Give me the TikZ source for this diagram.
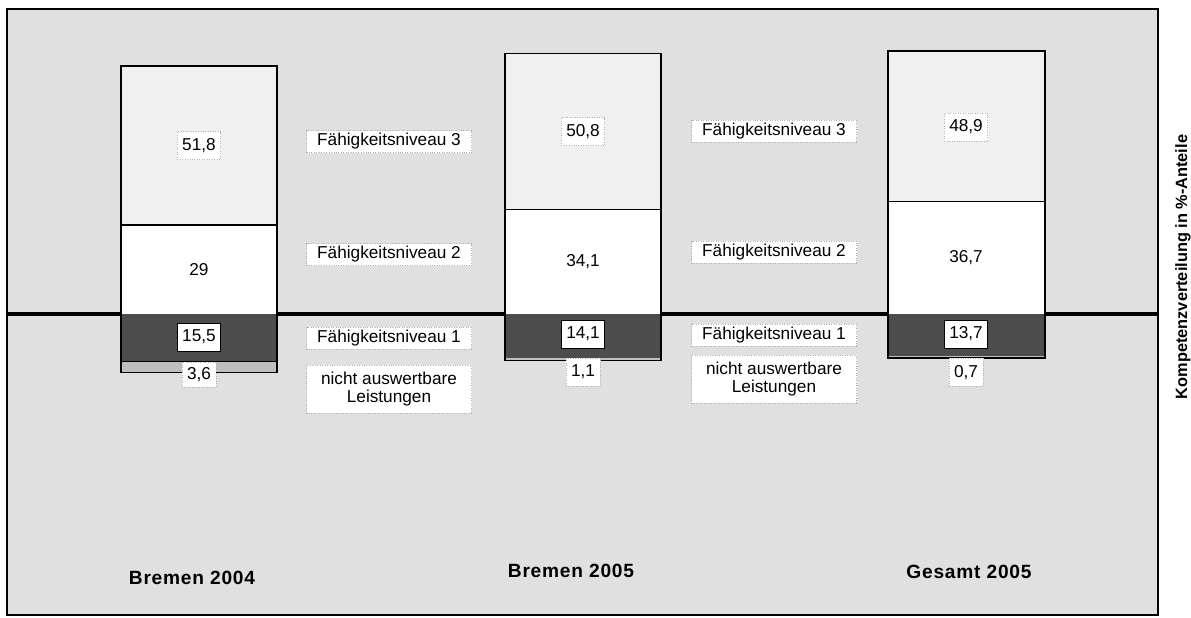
\documentclass[tikz,border=0pt]{standalone}
\usepackage{fontspec}
\setmainfont{Liberation Sans}
\newfontfamily\catfont[LetterSpace=4]{Liberation Sans}

\begin{document}
\begin{tikzpicture}[
  every node/.style={font=\fontsize{9.8}{10.4}\selectfont, inner sep=0pt},
  valbox/.style={fill=white, draw=gray!60, densely dotted, inner xsep=0.1cm, minimum height=0.56cm},
  lvlbox/.style={fill=white, draw=gray!60, densely dotted, minimum width=3.3cm, minimum height=0.44cm, align=center},
  catlabel/.style={font=\catfont\bfseries\fontsize{10.9}{12}\selectfont},
  bar/.style={draw=black, line width=1.1pt}
]
  \useasboundingbox (0,0) rectangle (23.82,12.34);
  \fill[white] (0,0) rectangle (23.82,12.34);

  % Rahmen und Grundlinie
  \fill[gray!24] (0.14,0.04) rectangle (23.16,12.16);
  \draw[line width=0.8pt] (0.14,0.04) rectangle (23.16,12.16);
  \draw[line width=1.4pt] (0.14,12.16) -- (23.16,12.16);
  \draw[line width=2.2pt] (0.14,6.06) -- (23.16,6.06);

  % Bremen 2004
  \fill[gray!12] (2.42,7.84) rectangle (5.54,11.02);
  \fill[white] (2.42,6.06) rectangle (5.54,7.84);
  \fill[black!70] (2.42,5.11) rectangle (5.54,6.06);
  \fill[gray!50] (2.42,4.89) rectangle (5.54,5.11);
  \draw[bar] (2.42,4.89) rectangle (5.54,11.02);
  \draw[line width=0.9pt] (2.42,7.84) -- (5.54,7.84) (2.42,5.11) -- (5.54,5.11);

  % Bremen 2005
  \fill[gray!12] (10.10,8.15) rectangle (13.22,11.27);
  \fill[white] (10.10,6.06) rectangle (13.22,8.15);
  \fill[black!70] (10.10,5.19) rectangle (13.22,6.06);
  \fill[gray!50] (10.10,5.13) rectangle (13.22,5.19);
  \draw[bar] (10.10,5.13) rectangle (13.22,11.27);
  \draw[line width=0.9pt] (10.10,8.15) -- (13.22,8.15);

  % Gesamt 2005
  \fill[gray!12] (17.76,8.31) rectangle (20.90,11.32);
  \fill[white] (17.76,6.06) rectangle (20.90,8.31);
  \fill[black!70] (17.76,5.22) rectangle (20.90,6.06);
  \fill[gray!50] (17.76,5.18) rectangle (20.90,5.22);
  \draw[bar] (17.76,5.18) rectangle (20.90,11.32);
  \draw[line width=0.9pt] (17.76,8.31) -- (20.90,8.31);

  % Werte
  \node[valbox] (a3) at (3.98,9.43) {51,8};
  \node[valbox, draw=none] (a2) at (3.98,6.95) {29};
  \node[valbox, draw=black, solid] (a1) at (3.98,5.60) {15,5};
  \node[valbox, anchor=north, minimum height=0.5cm] (a0) at (3.98,5.11) {3,6};

  \node[valbox] (b3) at (11.66,9.71) {50,8};
  \node[valbox, draw=none] (b2) at (11.66,7.10) {34,1};
  \node[valbox, draw=black, solid] (b1) at (11.66,5.66) {14,1};
  \node[valbox, anchor=north] (b0) at (11.66,5.19) {1,1};

  \node[valbox] (c3) at (19.32,9.80) {48,9};
  \node[valbox, draw=none] (c2) at (19.32,7.19) {36,7};
  \node[valbox, draw=black, solid] (c1) at (19.32,5.66) {13,7};
  \node[valbox, anchor=north] (c0) at (19.32,5.18) {0,7};

  % Niveaus
  \node[lvlbox] (nl3) at (7.78,9.51) {Fähigkeitsniveau 3};
  \node[lvlbox] (nl2) at (7.78,7.25) {Fähigkeitsniveau 2};
  \node[lvlbox] (nl1) at (7.78,5.58) {Fähigkeitsniveau 1};
  \node[lvlbox, minimum height=0.96cm] (nl0) at (7.78,4.56) {nicht auswertbare\\Leistungen};

  \node[lvlbox] (nr3) at (15.48,9.72) {Fähigkeitsniveau 3};
  \node[lvlbox] (nr2) at (15.48,7.30) {Fähigkeitsniveau 2};
  \node[lvlbox] (nr1) at (15.48,5.64) {Fähigkeitsniveau 1};
  \node[lvlbox, minimum height=0.96cm] (nr0) at (15.48,4.76) {nicht auswertbare\\Leistungen};

  % Gruppen
  \node[catlabel] (g1) at (3.84,0.78) {Bremen 2004};
  \node[catlabel] (g2) at (11.42,0.92) {Bremen 2005};
  \node[catlabel] (g3) at (19.38,0.90) {Gesamt 2005};

  \node[rotate=90, font=\bfseries\fontsize{9.3}{11}\selectfont] (achse) at (23.66,7.0) {Kompetenzverteilung in \%-Anteile};
\end{tikzpicture}
\end{document}
